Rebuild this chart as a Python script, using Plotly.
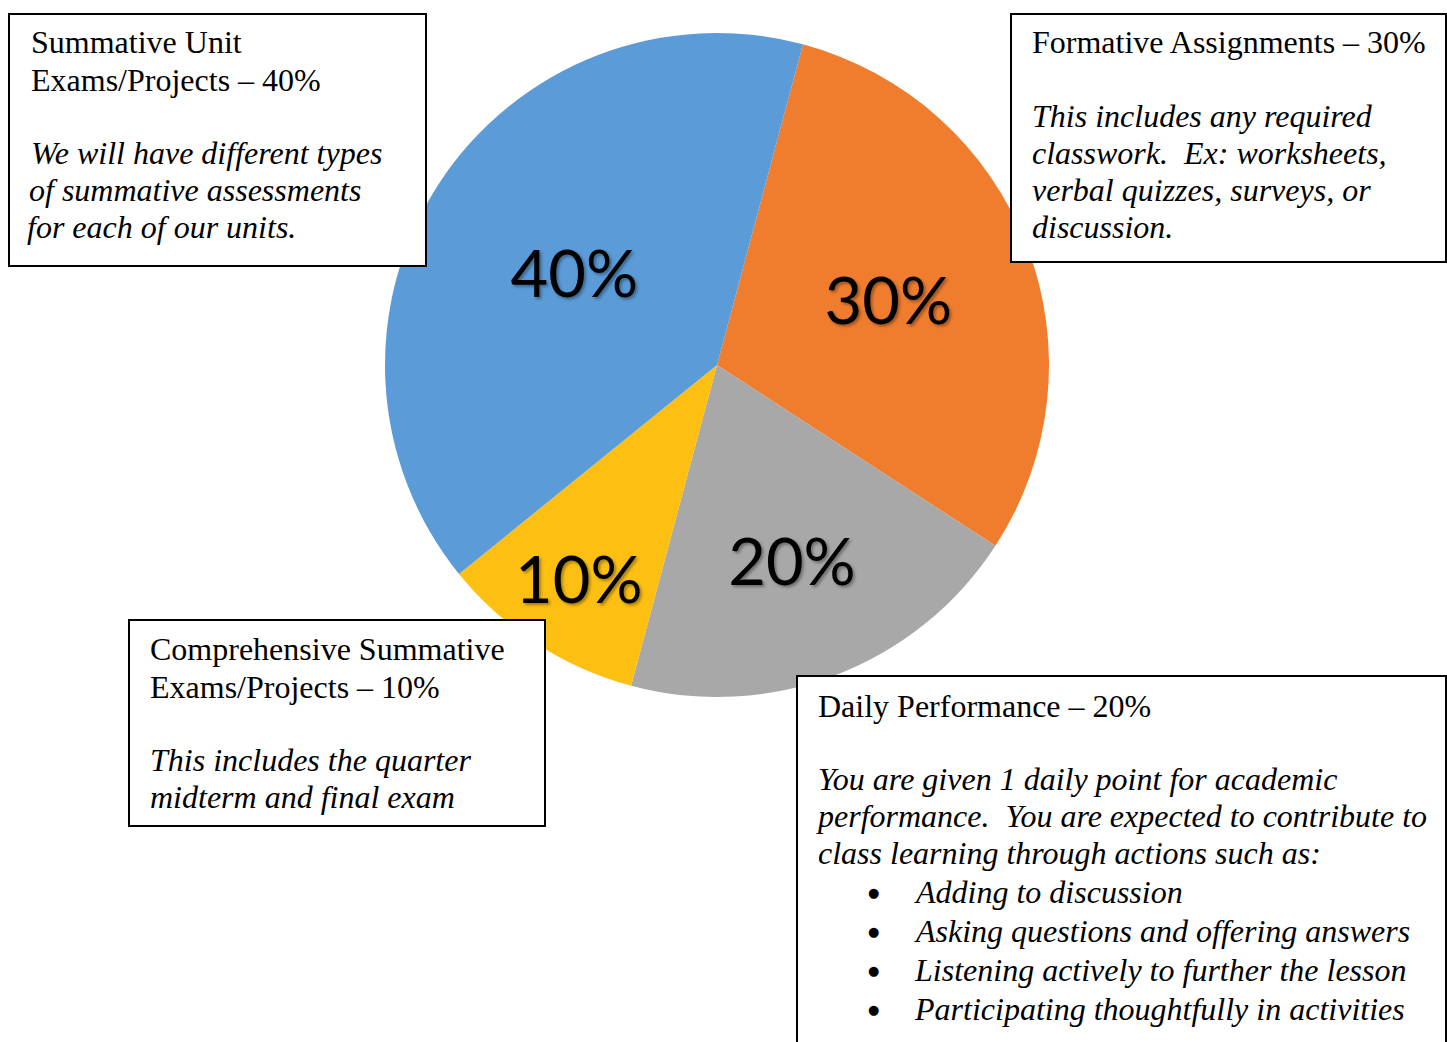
import plotly.graph_objects as go

W, H = 1447, 1042

# ---- data ----
categories = ["Formative Assignments", "Daily Performance",
              "Comprehensive Summative Exams/Projects", "Summative Unit Exams/Projects"]
weights = [30, 20, 10, 40]
slice_colors = ["#F07D2E", "#A8A8A8", "#FDC012", "#5A9BD8"]

box_texts = [
    {"box": (9, 14, 426, 266),
     "lines": [("Summative Unit", False, 29, 42), ("Exams/Projects – 40%", False, 29, 80),
               ("We will have different types", True, 29, 153),
               ("of summative assessments", True, 27, 190),
               ("for each of our units.", True, 25, 227)]},
    {"box": (1011, 14, 1446, 262),
     "lines": [("Formative Assignments – 30%", False, 1030, 42),
               ("This includes any required", True, 1030, 116),
               ("classwork.  Ex: worksheets,", True, 1030, 153),
               ("verbal quizzes, surveys, or", True, 1030, 190),
               ("discussion.", True, 1030, 227)]},
    {"box": (129, 620, 545, 826),
     "lines": [("Comprehensive Summative", False, 148, 649),
               ("Exams/Projects – 10%", False, 148, 687),
               ("This includes the quarter", True, 148, 760),
               ("midterm and final exam", True, 148, 797)]},
    {"box": (797, 676, 1446, 1060),
     "lines": [("Daily Performance – 20%", False, 816, 706),
               ("You are given 1 daily point for academic", True, 816, 779),
               ("performance.  You are expected to contribute to", True, 814, 816),
               ("class learning through actions such as:", True, 816, 853),
               ("●", False, 873, 892), ("Adding to discussion", True, 912, 892),
               ("●", False, 873, 931), ("Asking questions and offering answers", True, 912, 931),
               ("●", False, 873, 970), ("Listening actively to further the lesson", True, 912, 970),
               ("●", False, 873, 1009), ("Participating thoughtfully in activities", True, 912, 1009)]},
]

cx, cy, R = 717, 365, 332


def px(x):
    return x / W


def py(y):
    return 1 - y / H


fig = go.Figure(go.Pie(
    labels=categories, values=weights, sort=False, direction="clockwise", rotation=15,
    marker=dict(colors=slice_colors, line=dict(width=0)),
    textinfo="percent", texttemplate="%{percent:.0%}", textposition="inside",
    insidetextorientation="horizontal",
    textfont=dict(family="Lato", size=65, color="black",
                  shadow="2px 2px 3px rgba(0,0,0,0.35)"),
    domain=dict(x=[px(cx - R), px(cx + R)], y=[py(cy + R), py(cy - R)]),
    showlegend=False, hoverinfo="label+percent",
))

shapes = []
annotations = []
for b in box_texts:
    x0, y0, x1, y1 = b["box"]
    shapes.append(dict(type="rect", xref="paper", yref="paper",
                       x0=px(x0), x1=px(x1), y0=py(y1), y1=py(y0),
                       line=dict(color="black", width=2), fillcolor="white", layer="above"))
    for txt, ital, lx, ly in b["lines"]:
        is_bullet = txt == "●"
        annotations.append(dict(
            text=txt, xref="paper", yref="paper", x=px(lx), y=py(ly),
            xanchor="center" if is_bullet else "left", yanchor="middle", showarrow=False,
            font=dict(family="DejaVu Sans" if is_bullet else "Liberation Serif",
                      size=13 if is_bullet else 32, color="black",
                      style="italic" if ital else "normal")))

fig.update_layout(
    width=W, height=H, margin=dict(l=0, r=0, t=0, b=0),
    paper_bgcolor="white", plot_bgcolor="white",
    shapes=shapes, annotations=annotations,
)

fig.write_html("out.html", config={"displayModeBar": False},
               post_script="document.body.style.margin='0';")
